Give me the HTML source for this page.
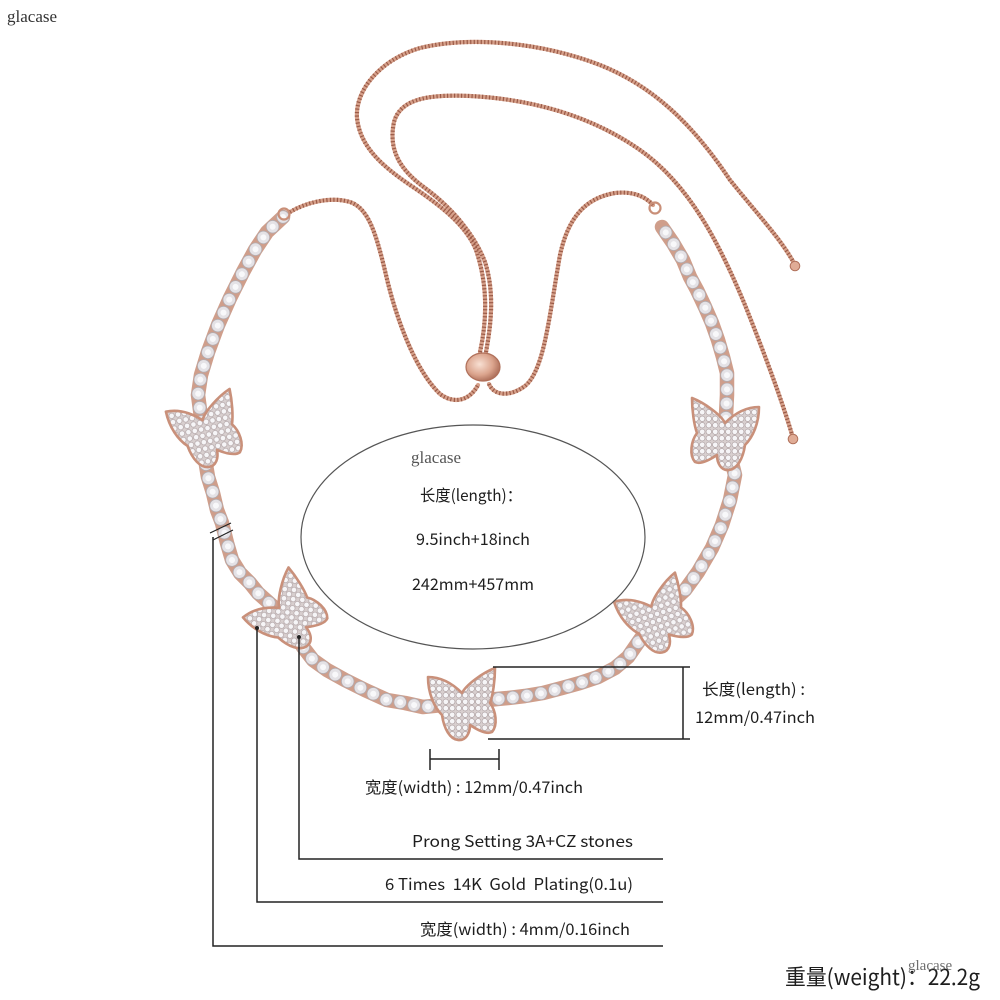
<!DOCTYPE html>
<html><head><meta charset="utf-8"><style>
html,body{margin:0;padding:0;background:#fff;}
svg{display:block;}
.t{font-family:"Noto Sans CJK SC","Liberation Sans",sans-serif;fill:#1e1e1e;}
.s{font-family:"Liberation Serif",serif;}
</style></head><body>
<svg width="1000" height="1000" viewBox="0 0 1000 1000" xmlns="http://www.w3.org/2000/svg">
<defs>
<pattern id="pave" width="6.5" height="6.5" patternUnits="userSpaceOnUse">
<rect width="6.5" height="6.5" fill="#d8cfcf"/>
<circle cx="3.25" cy="3.25" r="2.7" fill="#f6f5f7" stroke="#aa9c9e" stroke-width="0.6"/>
</pattern>
<radialGradient id="bead" cx="40%" cy="40%" r="65%">
<stop offset="0" stop-color="#f8e0d3"/><stop offset="0.6" stop-color="#dba48d"/><stop offset="1" stop-color="#a96a55"/>
</radialGradient>
<path id="bf" d="M0,-12 C4,-20 20,-32 33,-37 C33,-25 31,-10 28,-2 C34,6 36,20 30,27 C24,30 14,24 8,20 C8,28 4,36 -4,35 C-12,34 -18,24 -20,10 C-28,2 -34,-12 -34,-28 C-22,-28 -10,-22 0,-12 Z"/>
</defs>
<rect width="1000" height="1000" fill="#fff"/>

<!-- box chains -->
<g fill="none" stroke-linecap="round" stroke-linejoin="round">
<g id="chains">
<path d="M290,212 C305,203 330,196 350,202 C368,208 376,232 386,275 C396,318 415,370 440,394 C455,405 470,400 478,385"/>
<path d="M489,384 C494,396 510,397 525,386 C545,370 550,310 560,255 C568,218 585,198 615,193 C632,191 645,196 653,205"/>
<path d="M480,352 C487,320 488,285 476,250 C466,225 440,205 410,185 C385,168 360,148 357,118 C355,90 380,60 420,48 C470,36 540,42 600,65 C650,85 690,120 730,180 C758,215 782,240 795,265"/>
<path d="M486,352 C492,320 494,290 485,262 C476,238 455,210 425,188 C400,170 388,150 394,122 C400,100 425,94 470,96 C530,99 590,115 640,150 C690,185 720,245 745,305 C765,355 782,400 793,438"/>
</g>
</g>
<g fill="none" stroke="#d6a08a" stroke-width="4.2" stroke-linecap="round">
<use href="#chains"/>
</g>
<g fill="none" stroke="#9a5a47" stroke-width="4.2" stroke-dasharray="1.2 2.3">
<use href="#chains"/>
</g>
<circle cx="795" cy="266" r="4.8" fill="#e0ac96" stroke="#b0715b" stroke-width="1"/>
<circle cx="793" cy="439" r="4.8" fill="#e0ac96" stroke="#b0715b" stroke-width="1"/>
<ellipse cx="483" cy="367" rx="17" ry="14" fill="url(#bead)" stroke="#b0705a" stroke-width="1.2"/>

<!-- tennis chain -->
<g fill="none" stroke-linecap="round" stroke-linejoin="round">
<path id="tennis" d="M283,217 L267,232 255,250 243,272 230,298 218,325 208,352 201,375 198,395 203,432 206,465 208,477 213,493 217,510 222,523 227,543 232,560 240,573 250,583 258,593 285,617 303,647 313,660 327,670 345,680 365,690 387,700 405,703 423,707 462,703 497,699 508,698 525,696 543,693 562,688 580,683 598,677 615,668 628,657 655,618 685,590 698,572 712,548 722,525 730,500 735,475 725,435 727,395 727,373 723,357 718,340 712,323 705,307 697,290 690,277 683,260 673,243 662,227"/>
</g>
<use href="#tennis" fill="none" stroke="#cf9e8b" stroke-width="14.5" stroke-linecap="round" stroke-linejoin="round"/>
<use href="#tennis" fill="none" stroke="#b3abae" stroke-width="13.5" stroke-linecap="round" stroke-dasharray="0.01 14.2"/>
<use href="#tennis" fill="none" stroke="#e4e2e6" stroke-width="11.8" stroke-linecap="round" stroke-dasharray="0.01 14.2"/>
<use href="#tennis" fill="none" stroke="#f8f8fa" stroke-width="6" stroke-linecap="round" stroke-dasharray="0.01 14.2"/>
<circle cx="284" cy="214" r="5.5" fill="none" stroke="#c98f78" stroke-width="2.2"/>
<circle cx="655" cy="208" r="5.5" fill="none" stroke="#c98f78" stroke-width="2.2"/>

<!-- butterflies -->
<g fill="url(#pave)" stroke="#c9907a" stroke-width="2.6" stroke-linejoin="round">
<use href="#bf" transform="translate(205,432) rotate(-12)"/>
<use href="#bf" transform="translate(287,617) rotate(-40)"/>
<use href="#bf" transform="translate(462,705)"/>
<use href="#bf" transform="translate(655,618) rotate(-18)"/>
<use href="#bf" transform="translate(725,435) scale(-1,1)"/>
</g>

<!-- ellipse -->
<ellipse cx="473" cy="537" rx="172" ry="112" fill="none" stroke="#555" stroke-width="1.2"/>
<text x="411" y="463" class="s" font-size="17" fill="#555">glacase</text>
<text x="420" y="501" class="t" font-size="16" textLength="102" lengthAdjust="spacingAndGlyphs">长度(length)：</text>
<text x="416" y="545" class="t" font-size="16" textLength="114" lengthAdjust="spacingAndGlyphs">9.5inch+18inch</text>
<text x="412" y="590" class="t" font-size="16" textLength="122" lengthAdjust="spacingAndGlyphs">242mm+457mm</text>

<!-- dimension lines -->
<g stroke="#222" stroke-width="1.5" fill="none">
<path d="M493,667 H690 M488,739 H690 M683,667 V739"/>
<path d="M430,749 V770 M499,749 V770 M430,759 H499"/>
<path d="M213,537 V946 H663"/>
<path d="M257,628 V902 H663"/>
<path d="M299,637 V859 H663"/>
<path d="M210,533 L231,523 M213,540 L233,530" stroke-width="1.2"/>
</g>
<circle cx="257" cy="628" r="2" fill="#222"/>
<circle cx="299" cy="637" r="2" fill="#222"/>

<text x="702" y="695" class="t" font-size="16" textLength="103" lengthAdjust="spacingAndGlyphs">长度(length) :</text>
<text x="695" y="723" class="t" font-size="16" textLength="120" lengthAdjust="spacingAndGlyphs">12mm/0.47inch</text>
<text x="365" y="793" class="t" font-size="16" textLength="218" lengthAdjust="spacingAndGlyphs">宽度(width) : 12mm/0.47inch</text>
<text x="412" y="847" class="t" font-size="16" textLength="221" lengthAdjust="spacingAndGlyphs">Prong Setting 3A+CZ stones</text>
<text x="385" y="890" class="t" font-size="16" textLength="248" lengthAdjust="spacingAndGlyphs" xml:space="preserve">6 Times  14K  Gold  Plating(0.1u)</text>
<text x="420" y="935" class="t" font-size="16" textLength="210" lengthAdjust="spacingAndGlyphs">宽度(width) : 4mm/0.16inch</text>

<text x="785" y="985" class="t" font-size="22" textLength="195" lengthAdjust="spacingAndGlyphs">重量(weight)：22.2g</text>
<text x="908" y="970" class="s" font-size="15" fill="#555" opacity="0.85">glacase</text>
<text x="7" y="22" class="s" font-size="17" fill="#333">glacase</text>
</svg>
</body></html>
